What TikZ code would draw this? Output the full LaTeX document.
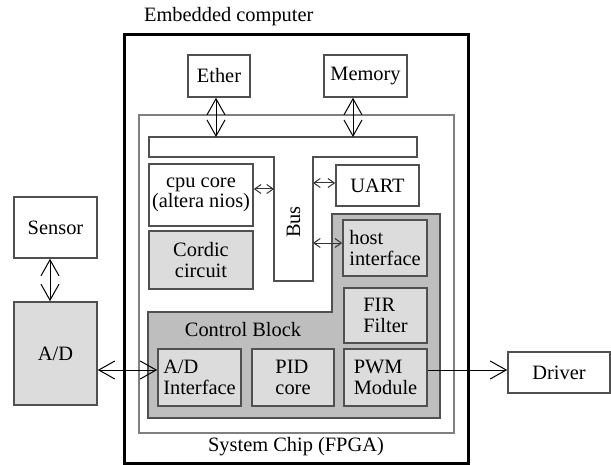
\documentclass[tikz,border=0pt]{standalone}
\usepackage{fontspec}
\setmainfont{Liberation Serif}
\usetikzlibrary{arrows.meta}
\definecolor{lgray}{HTML}{DCDCDC}
\definecolor{dgray}{HTML}{BEBEBE}
\definecolor{edge}{HTML}{505050}
\begin{document}
\begin{tikzpicture}[x=0.5pt,y=-0.5pt,
  font=\fontsize{10.2}{10.2}\selectfont,
  bx/.style={draw=edge,line width=0.8pt,fill=white,inner sep=1pt,align=left},
  gbx/.style={bx,fill=lgray},
  big/.style={black,line width=0.5pt,{Straight Barb[length=8pt,width=9pt]}-{Straight Barb[length=8pt,width=9pt]}},
  small/.style={black!80,line width=0.5pt,{Straight Barb[length=3.2pt,width=4.5pt]}-{Straight Barb[length=3.2pt,width=4.5pt]}},
  ]
\useasboundingbox (0,0) rectangle (611,465);
% outer box
\draw[line width=1.5pt] (124,35) rectangle (468,463);
\node[anchor=west] (emb) at (137,17) {Embedded computer};
% FPGA box
\draw[draw=gray,line width=0.6pt] (139,115) rectangle (454,433);
\node (fpga) at (296,447) {System Chip (FPGA)};
% Ether, Memory
\node[bx,minimum width=31pt,minimum height=21pt] (ether) at (219,76) {Ether};
\node[bx,minimum width=41.5pt,minimum height=21pt] (mem) at (365.5,76) {Memory};
% Bus
\draw[draw=edge,line width=0.6pt,fill=white] (149,137) -- (417,137) -- (417,157) -- (313,157) -- (313,281) -- (274,281) -- (274,157) -- (149,157) -- cycle;
\node[rotate=90] (bus) at (293.5,222) {Bus};
\coordinate (busE) at (216,137);
\coordinate (busM) at (353,137);
\coordinate (busL) at (274,189);
\coordinate (busR1) at (313,183);
\coordinate (busR2) at (313,243);
% Control block
\draw[draw=edge,line width=0.8pt,fill=dgray] (332,214) -- (440,214) -- (440,418) -- (148,418) -- (148,312) -- (332,312) -- cycle;
\node (cb) at (243,330) {Control Block};
% inner boxes
\node[bx,align=center,minimum width=52pt,minimum height=31pt] (cpu) at (201,195) {cpu core\\(altera nios)};
\node[gbx,align=center,minimum width=52pt,minimum height=29pt] (cordic) at (201,260) {Cordic\\circuit};
\node[bx,minimum width=41.5pt,minimum height=20.5pt] (uart) at (377.5,185.5) {UART};
\node[gbx,minimum width=42pt,minimum height=28pt] (host) at (385,248) {host\\interface};
\node[gbx,minimum width=41.5pt,minimum height=27.5pt] (fir) at (385.5,315.5) {FIR\\Filter};
\node[gbx,minimum width=41.5pt,minimum height=28.5pt] (pwm) at (385.5,377.5) {PWM\\Module};
\node[gbx,minimum width=41pt,minimum height=28.5pt] (pid) at (293,377.5) {PID\\core};
\node[gbx,minimum width=41.5pt,minimum height=28.5pt] (adi) at (199.5,377.5) {A/D\\Interface};
% outside boxes
\node[bx,minimum width=41.5pt,minimum height=30.5pt] (sensor) at (55.5,227.5) {Sensor};
\node[gbx,minimum width=41.5pt,minimum height=51.5pt] (ad) at (55.5,353.5) {A/D};
\node[bx,minimum width=51pt,minimum height=20.5pt] (driver) at (559,372.5) {Driver};
% connectors
\draw[big] (ether.south -| busE) -- (busE);
\draw[big] (mem.south -| busM) -- (busM);
\draw[small] (cpu.east |- busL) -- (busL);
\draw[small] (busR1) -- (uart.west |- busR1);
\draw[small] (busR2) -- (host.west |- busR2);
\draw[big] (sensor.south -| 50,0) -- (ad.north -| 50,0);
\draw[big] (ad.east |- 0,370) -- (adi.west |- 0,370);
\draw[black,line width=0.5pt,-{Straight Barb[length=8pt,width=9pt]}] (pwm.east |- 0,370) -- (driver.west |- 0,370);
\end{tikzpicture}
\end{document}
